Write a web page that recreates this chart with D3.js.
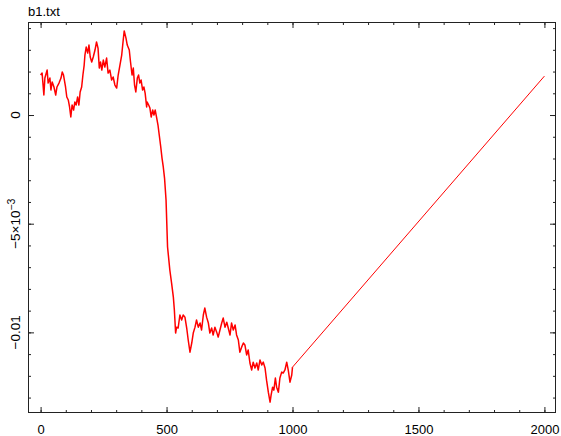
<!DOCTYPE html>
<html>
<head>
<meta charset="utf-8">
<script src="https://cdn.jsdelivr.net/npm/d3@7"></script>
<style>
  html, body { margin: 0; padding: 0; background: #fff; }
  svg text { font-family: "Liberation Sans", Arial, sans-serif; fill: #000; }
</style>
</head>
<body>
<svg id="chart" width="561" height="436"></svg>
<script>
// Series from b1.txt: sample index and value (in units of 1e-3)
const xs = [0,6,13,17,26,30,37,41,46,53,60,65,73,81,86,91,99,104,110,115,120,125,131,136,141,147,152,157,163,168,
  173,176,181,187,192,197,203,209,216,222,228,233,238,243,249,255,262,268,275,282,288,295,302,308,315,322,328,332,339,344,
  352,357,363,368,373,378,384,389,394,399,405,410,415,421,423,429,434,439,445,450,455,461,466,471,477,482,487,492,498,504,
  513,520,527,531,536,540,546,553,560,566,573,580,586,593,600,606,613,619,626,633,639,646,652,659,666,672,679,685,692,699,
  705,712,719,725,732,739,745,752,758,765,772,778,785,791,798,805,811,818,824,831,838,844,851,858,864,871,878,884,891,897,
  904,911,915,921,926,932,937,944,950,957,963,970,977,983,990,997,1000,2000];
const ysE3 = [1.84,1.93,0.92,1.70,2.07,1.47,1.70,1.15,1.52,1.29,0.92,1.29,1.47,1.70,1.98,1.84,1.29,0.83,0.69,0.37,-0.09,0.46,0.23,0.60,0.46,0.83,0.46,1.06,1.29,1.84,
  2.30,2.76,3.13,2.85,3.22,2.67,2.44,2.67,2.99,3.36,3.08,2.16,2.44,2.07,2.53,2.21,2.62,1.93,2.07,1.61,1.75,1.38,1.24,1.84,2.30,2.76,3.45,3.87,3.54,3.22,
  2.99,2.44,1.84,2.16,1.38,1.06,1.70,1.84,1.47,1.61,1.15,1.29,1.01,0.37,0.60,0.46,0.32,-0.09,0.23,0.00,0.23,-0.14,-0.46,-0.92,-1.47,-1.98,-2.39,-2.90,-3.91,-6.07,
  -7.13,-7.73,-8.38,-8.97,-10.03,-9.76,-9.80,-9.20,-9.43,-9.20,-9.30,-9.80,-10.35,-10.91,-10.49,-10.03,-9.76,-9.43,-9.76,-9.57,-9.89,-9.20,-8.88,-9.30,-9.57,-10.03,-9.80,-10.12,-9.76,-9.99,
  -10.22,-9.89,-9.57,-9.34,-9.76,-9.53,-9.80,-10.12,-9.57,-9.89,-9.66,-10.12,-10.35,-10.91,-10.68,-10.49,-10.58,-11.04,-10.81,-11.41,-11.73,-11.37,-11.64,-11.41,-11.73,-11.27,-11.50,-11.37,-11.64,-12.20,
  -12.75,-13.21,-12.89,-12.52,-12.66,-12.10,-12.52,-12.75,-12.10,-11.83,-11.87,-11.73,-11.37,-11.73,-12.29,-11.96,-11.60,1.79];

const xMajor = [0, 500, 1000, 1500, 2000];
const xMinor = d3.range(0, 2001, 100);
const yMajor = [0, -0.005, -0.01];
const yMinor = d3.range(-13, 5).map(k => k / 1000);

const data = xs.map((x, i) => ({ x, y: ysE3[i] / 1000 }));

const svg = d3.select("#chart");
const L = 28, R = 556, T = 22, B = 413;

const x = d3.scaleLinear().domain([-50, 2046]).range([L, R]);
const y = d3.scaleLinear().domain([-0.01371, 0.00428]).range([B, T]);

// Title
svg.append("text").attr("x", 28).attr("y", 16).attr("font-size", 13).text("b1.txt");

// Plot frame
svg.append("rect")
  .attr("x", L + 0.5).attr("y", T + 0.5)
  .attr("width", R - L - 1).attr("height", B - T - 1)
  .attr("fill", "none").attr("stroke", "#222").attr("stroke-width", 1);

// Inward ticks on all four sides, built from d3 axes
function styleTicks(g) {
  g.select(".domain").remove();
  g.selectAll("line").attr("stroke", "#222");
}
const tMaj = 6, tMin = 3;

// bottom
svg.append("g").attr("transform", `translate(0,${B})`)
  .call(d3.axisBottom(x).tickValues(xMinor).tickSize(-tMin).tickFormat(""))
  .call(styleTicks);
svg.append("g").attr("transform", `translate(0,${B})`)
  .call(d3.axisBottom(x).tickValues(xMajor).tickSize(-tMaj).tickPadding(tMaj + 6).tickFormat(d3.format("d")))
  .call(styleTicks)
  .call(g => g.selectAll("text").attr("font-size", 13).attr("font-family", "Liberation Sans, Arial, sans-serif").attr("fill", "#000"));
// top
svg.append("g").attr("transform", `translate(0,${T})`)
  .call(d3.axisTop(x).tickValues(xMinor).tickSize(-tMin).tickFormat(""))
  .call(styleTicks);
svg.append("g").attr("transform", `translate(0,${T})`)
  .call(d3.axisTop(x).tickValues(xMajor).tickSize(-tMaj).tickFormat(""))
  .call(styleTicks);
// left
svg.append("g").attr("transform", `translate(${L},0)`)
  .call(d3.axisLeft(y).tickValues(yMinor).tickSize(-tMin).tickFormat(""))
  .call(styleTicks);
svg.append("g").attr("transform", `translate(${L},0)`)
  .call(d3.axisLeft(y).tickValues(yMajor).tickSize(-tMaj).tickFormat(""))
  .call(styleTicks);
// right
svg.append("g").attr("transform", `translate(${R},0)`)
  .call(d3.axisRight(y).tickValues(yMinor).tickSize(-tMin).tickFormat(""))
  .call(styleTicks);
svg.append("g").attr("transform", `translate(${R},0)`)
  .call(d3.axisRight(y).tickValues(yMajor).tickSize(-tMaj).tickFormat(""))
  .call(styleTicks);

// Rotated y tick labels
const yLab = svg.append("g");
yMajor.forEach(v => {
  const t = yLab.append("text")
    .attr("transform", `translate(20,${y(v)}) rotate(-90)`)
    .attr("text-anchor", "middle")
    .attr("font-size", 13.5);
  if (v === 0) t.text("0");
  else if (v === -0.01) t.text("\u22120.01");
  else {
    t.append("tspan").text("\u22125\u00d710");
    t.append("tspan").attr("dy", -5).attr("font-size", 10.5).text("\u22123");
  }
});

// Data line: noisy part and the linear tail
const line = d3.line().x(d => x(d.x)).y(d => y(d.y));
const splitIdx = xs.indexOf(1000);
svg.append("path")
  .datum(data.slice(0, splitIdx + 1))
  .attr("d", line).attr("fill", "none")
  .attr("stroke", "#ff0000").attr("stroke-width", 1.5).attr("stroke-linejoin", "round");
svg.append("path")
  .datum(data.slice(splitIdx))
  .attr("d", line).attr("fill", "none")
  .attr("stroke", "#ff0000").attr("stroke-width", 1);
</script>
</body>
</html>
